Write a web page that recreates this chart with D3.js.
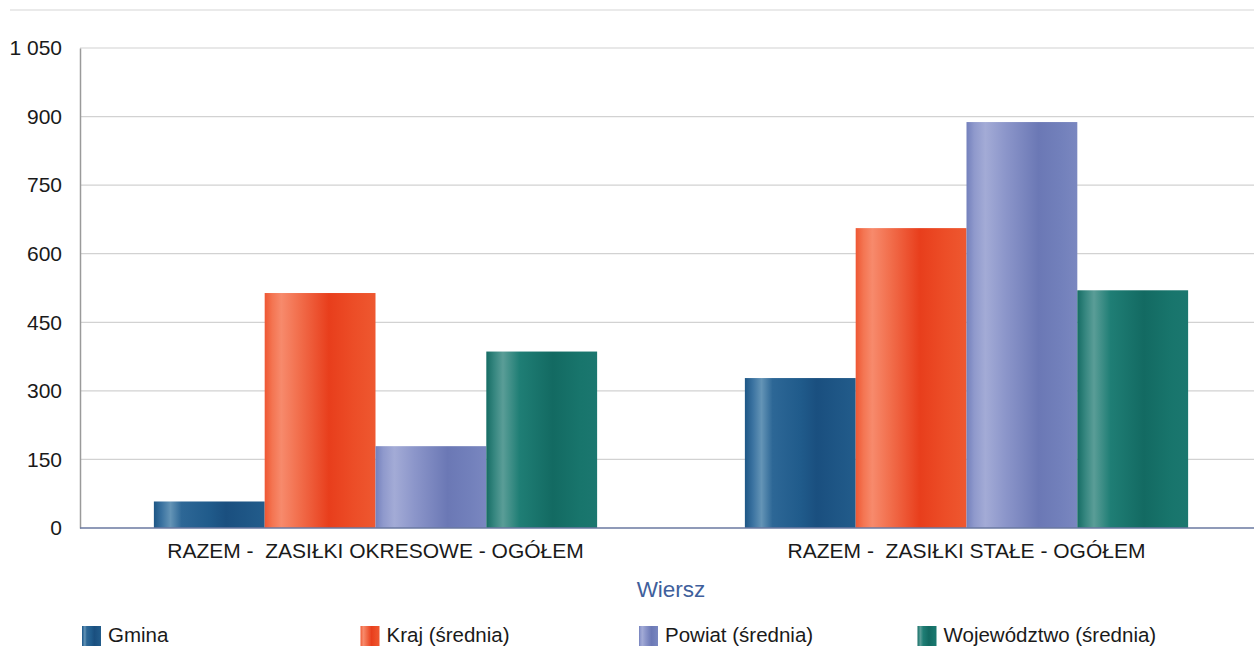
<!DOCTYPE html>
<html>
<head>
<meta charset="utf-8">
<script src="https://cdn.jsdelivr.net/npm/d3@7"></script>
<style>
  html, body { margin: 0; padding: 0; background: #fff; }
  svg { display: block; }
  text { font-family: "Liberation Sans", Arial, sans-serif; }
</style>
</head>
<body>
<svg id="chart" width="1254" height="646"></svg>
<script>
const categories = ["RAZEM -  ZASIŁKI OKRESOWE - OGÓŁEM", "RAZEM -  ZASIŁKI STAŁE - OGÓŁEM"];
const seriesNames = ["Gmina", "Kraj (średnia)", "Powiat (średnia)", "Województwo (średnia)"];
const gminaValues = [58, 328];
const krajValues = [514, 656];
const powiatValues = [179, 888];
const wojewodztwoValues = [386, 520];
const yTicks = [0, 150, 300, 450, 600, 750, 900, 1050];
const axisTitle = "Wiersz";

const seriesValues = [gminaValues, krajValues, powiatValues, wojewodztwoValues];

// gradient stops per series (offset, colour)
const gradients = [
  [[0, "#1d5685"], [0.07, "#3a72a0"], [0.15, "#6494b6"], [0.25, "#2d6796"], [0.5, "#205b8b"], [0.65, "#1a4f7f"], [1, "#225c8b"]],
  [[0, "#ee5733"], [0.07, "#f47552"], [0.15, "#f78a6c"], [0.3, "#f2704e"], [0.58, "#e83e1c"], [0.8, "#ec4d27"], [1, "#ee5830"]],
  [[0, "#7380bc"], [0.07, "#8f99cc"], [0.17, "#a3abd6"], [0.35, "#8c96ca"], [0.65, "#6b78b5"], [0.85, "#7280bb"], [1, "#7a87c0"]],
  [[0, "#166c64"], [0.07, "#35867f"], [0.15, "#5a9d97"], [0.3, "#1f7e75"], [0.6, "#136a62"], [0.85, "#18756c"], [1, "#1b776f"]]
];

const svg = d3.select("#chart");
const W = 1254, H = 646;
const margin = { left: 80, right: -8, top: 48, bottom: 118 };
const x0 = margin.left, x1 = W - margin.right;
const yTop = margin.top, yBottom = H - margin.bottom;

const defs = svg.append("defs");
gradients.forEach((stops, i) => {
  const g = defs.append("linearGradient").attr("id", "grad" + i)
    .attr("x1", "0%").attr("x2", "100%").attr("y1", "0%").attr("y2", "0%");
  stops.forEach(s => g.append("stop").attr("offset", s[0]).attr("stop-color", s[1]));
});

// faint top scan line
svg.append("line").attr("x1", 10).attr("x2", W).attr("y1", 10).attr("y2", 10)
  .attr("stroke", "#d6d6d6").attr("stroke-width", 1.2);

const y = d3.scaleLinear().domain([0, 1050]).range([yBottom, yTop]);
const xBand = d3.scaleBand().domain(categories).range([x0, x1]).paddingInner(0.25).paddingOuter(0.125);
const xInner = d3.scaleBand().domain(seriesNames).range([0, xBand.bandwidth()]).padding(0);

const locale = d3.formatLocale({ decimal: ",", thousands: " ", grouping: [3], currency: ["", " zł"] });
const fmt = locale.format(",d");

// gridlines
svg.append("g").selectAll("line").data(yTicks.filter(d => d > 0)).join("line")
  .attr("x1", x0).attr("x2", W)
  .attr("y1", d => y(d)).attr("y2", d => y(d))
  .attr("stroke", "#d2d2d2").attr("stroke-width", 1.2);

// y axis
const yAxis = d3.axisLeft(y).tickValues(yTicks).tickFormat(fmt).tickSize(0).tickPadding(18);
const gy = svg.append("g").attr("transform", `translate(${x0},0)`).call(yAxis);
gy.select(".domain").attr("stroke", "#9a9a9a").attr("stroke-width", 1.5);
gy.selectAll("text").attr("font-size", 21).attr("fill", "#1a1a1a")
  .attr("font-family", "'Liberation Sans', Arial, sans-serif");

// bars
const groups = svg.append("g").selectAll("g").data(categories).join("g")
  .attr("transform", d => `translate(${xBand(d)},0)`);
groups.selectAll("rect").data((c, ci) => seriesNames.map((s, si) => ({ s, si, v: seriesValues[si][ci] })))
  .join("rect")
  .attr("x", d => xInner(d.s))
  .attr("width", xInner.bandwidth())
  .attr("y", d => y(d.v))
  .attr("height", d => y(0) - y(d.v))
  .attr("fill", d => `url(#grad${d.si})`);

// baseline
svg.append("line").attr("x1", x0).attr("x2", W).attr("y1", y(0)).attr("y2", y(0))
  .attr("stroke", "#6a78a0").attr("stroke-width", 1.5);

// x axis labels
const xAxis = d3.axisBottom(xBand).tickSize(0).tickPadding(15);
const gx = svg.append("g").attr("transform", `translate(0,${y(0)})`).call(xAxis);
gx.select(".domain").remove();
gx.selectAll("text").attr("font-size", 21).attr("fill", "#1a1a1a")
  .attr("font-family", "'Liberation Sans', Arial, sans-serif")
  .style("white-space", "pre");

// axis title
svg.append("text").attr("x", (x0 + W) / 2 + 4).attr("y", 597)
  .attr("text-anchor", "middle").attr("font-size", 22.5)
  .attr("font-family", "'Open Sans', 'Noto Sans', sans-serif")
  .attr("fill", "#3f5f9c").text(axisTitle);

// legend
const legendX = d3.scaleBand().domain(seriesNames).range([82, 82 + 278.5 * 4]);
const lg = svg.append("g").selectAll("g").data(seriesNames).join("g")
  .attr("transform", d => `translate(${legendX(d)},626)`);
lg.append("rect").attr("x", 0).attr("y", 0).attr("width", 19).attr("height", 20)
  .attr("fill", (d, i) => `url(#grad${i})`);
lg.append("text").attr("x", 26).attr("y", 16).attr("font-size", 20.5)
  .attr("fill", "#1a1a1a").text(d => d);
</script>
</body>
</html>
